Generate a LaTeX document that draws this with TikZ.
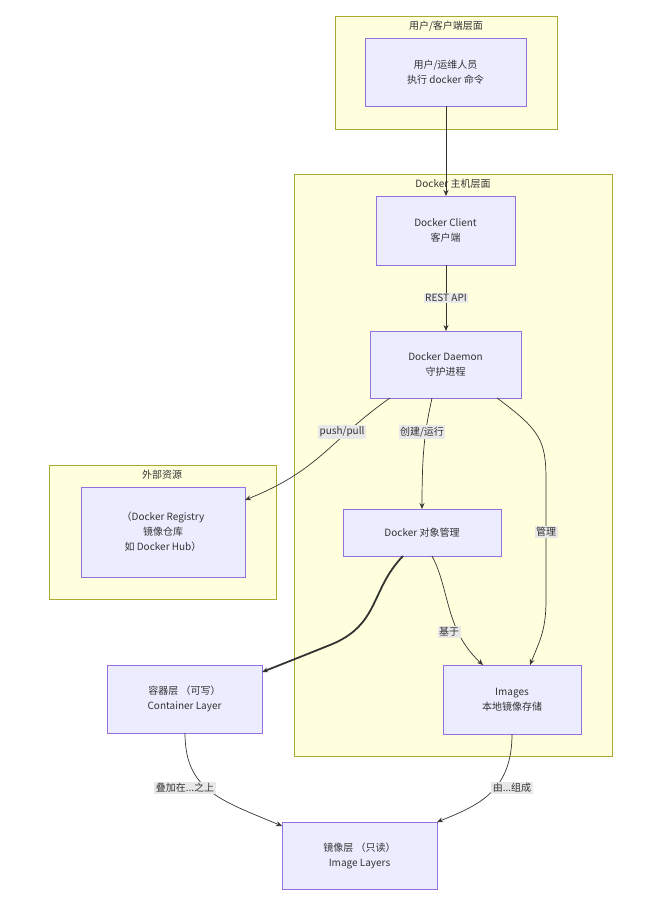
\documentclass[tikz,border=0pt]{standalone}
\usepackage{fontspec}
\setmainfont{Noto Sans CJK SC}
\usetikzlibrary{arrows.meta}
\definecolor{cfill}{HTML}{FFFFDE}
\definecolor{cline}{HTML}{AAAA33}
\definecolor{nfill}{HTML}{ECECFF}
\definecolor{nline}{HTML}{9370DB}
\definecolor{ecol}{HTML}{333333}
\definecolor{lbg}{HTML}{E8E8E8}
\begin{document}
\begin{tikzpicture}[x=1pt,y=-1pt,
 cl/.style={draw=cline,fill=cfill,line width=0.8pt},
 nd/.style={draw=nline,fill=nfill,line width=0.8pt},
 tx/.style={font=\fontsize{10}{15}\selectfont,align=center,text=ecol},
 ed/.style={draw=ecol,line width=0.7pt,-{Stealth[length=6pt,width=5pt]}},
 lb/.style={fill=lbg,inner sep=1.5pt,font=\fontsize{10}{12}\selectfont,text=ecol}]
\useasboundingbox (0,0) rectangle (667,909);
% clusters
\draw[cl] (335,16) rectangle (557,129);
\node[tx] (t1) at (446,26) {用户/客户端层面};
\draw[cl] (294,174) rectangle (612,756);
\node[tx] (t2) at (453,184) {Docker 主机层面};
\draw[cl] (49,465) rectangle (276,599);
\node[tx] (t3) at (162,475) {外部资源};
% nodes
\draw[nd] (365,38) rectangle (526,106); \node[tx] (u) at (445.5,72) {用户/运维人员\\执行 docker 命令};
\coordinate (ub) at (446,106);
\draw[nd] (376,196) rectangle (515,265); \node[tx] (c) at (445.5,230.5) {Docker Client\\客户端};
\coordinate (ct) at (446,196); \coordinate (cb) at (446,265);
\draw[nd] (370,331) rectangle (521,398); \node[tx] (d) at (445.5,364.5) {Docker Daemon\\守护进程};
\coordinate (dt) at (446,331);
\draw[nd] (81,487) rectangle (245,577); \node[tx] (r) at (163,532) {（Docker Registry\\镜像仓库\\如 Docker Hub）};
\draw[nd] (343,509) rectangle (501,556); \node[tx] (o) at (422,532.5) {Docker 对象管理};
\draw[nd] (107,665) rectangle (262,733); \node[tx] (k) at (184.5,699) {容器层 （可写）\\Container Layer};
\draw[nd] (443,665) rectangle (581,734); \node[tx] (i) at (512,699.5) {Images\\本地镜像存储};
\draw[nd] (282,822) rectangle (437,889); \node[tx] (l) at (359.5,855.5) {镜像层 （只读）\\Image Layers};
% edges
\draw[ed] (ub) -- (ct);
\draw[ed] (cb) -- node[lb] {REST API} (dt);
\draw[ed] (390,398) .. controls (330,440) and (320,470) .. (245,500);
\node[lb] at (342,432) {push/pull};
\draw[ed] (432,398) .. controls (425,430) and (422,450) .. (422,509);
\node[lb] at (422,432) {创建/运行};
\draw[ed] (497,398) .. controls (540,430) and (546,440) .. (546,480) -- (546,600) .. controls (546,630) and (540,640) .. (530,665);
\node[lb] at (546,532) {管理};
\draw[ed,line width=1.8pt] (403,556) .. controls (370,590) and (380,625) .. (330,645) .. controls (300,657) and (280,665) .. (262,672);
\draw[ed] (432,556) .. controls (450,590) and (445,630) .. (483,665);
\node[lb] at (449,632) {基于};
\draw[ed] (185,733) .. controls (185,790) and (220,800) .. (282,826);
\node[lb] at (185,788) {叠加在...之上};
\draw[ed] (512,734) .. controls (512,790) and (480,805) .. (437,822);
\node[lb] at (512,788) {由...组成};
\end{tikzpicture}
\end{document}
